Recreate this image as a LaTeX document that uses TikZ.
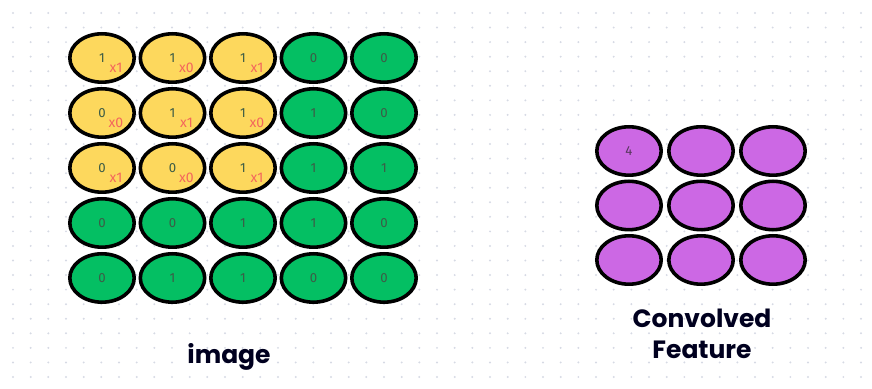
\documentclass[tikz,border=0pt]{standalone}
\usepackage{fontspec}
\setmainfont{Fira Sans}
\newfontfamily\titlefont{Poppins}
\usetikzlibrary{shapes.geometric}

\definecolor{cellyellow}{HTML}{FDD85D}
\definecolor{cellgreen}{HTML}{04BF63}
\definecolor{cellpurple}{HTML}{CC68E4}
\definecolor{numgrey}{HTML}{3C5C46}
\definecolor{kernred}{HTML}{F4675C}
\definecolor{dotgrey}{HTML}{D6DAE4}

\begin{document}
\begin{tikzpicture}[
  x=0.5pt, y=-0.5pt,
  cell/.style={ellipse, draw=black, line width=1.8pt, minimum width=32.2pt,
    minimum height=24.2pt, inner sep=0pt},
  num/.style={font=\fontsize{6.6}{7}\selectfont, text=numgrey, inner sep=0pt},
  kern/.style={font=\fontsize{7}{7}\selectfont, text=kernred, inner sep=0pt},
  title/.style={font=\titlefont\bfseries\fontsize{12.5}{15.5}\selectfont,
    text=black!88!blue, align=center, inner sep=0pt}
]
\useasboundingbox (0,0) rectangle (872,389);
% dotted canvas
\foreach \i in {0,...,48}
  \foreach \j in {0,...,25}
    \fill[dotgrey] (13+17.667*\i, 13+14.56*\j) circle (0.55pt);

% input image, 3x3 window in yellow
\foreach \row [count=\r from 0] in {{1,1,1,0,0},{0,1,1,1,0},{0,0,1,1,1},{0,0,1,1,0},{0,1,1,0,0}} {
  \foreach \v [count=\c from 0] in \row {
    \def\cellfill{cellgreen}
    \ifnum\r<3 \ifnum\c<3 \def\cellfill{cellyellow}\fi\fi
    \node[cell, fill=\cellfill] (img-\r-\c) at (102+70.5*\c, 58+55*\r) {};
    \node[num] (num-\r-\c) at (img-\r-\c) {\v};
    \ifnum\r<3 \ifnum\c<3
      \pgfmathtruncatemacro\k{mod(\r+\c+1,2)}
      \node[kern] (ker-\r-\c) at ([shift={(14,10)}]img-\r-\c.center) {x\k};
    \fi\fi
  }
}
\node[title, anchor=base] (imglabel) at (229,364) {image};

% convolved feature map
\foreach \r in {0,1,2}
  \foreach \c in {0,1,2}
    \node[cell, fill=cellpurple] (feat-\r-\c) at (629+72*\c, 151+54.5*\r) {};
\node[num, text=numgrey!60!violet] (feat-val) at (feat-0-0) {4};
\node[title, anchor=base] (featlabel) at (702,358) {Convolved\\Feature};
\end{tikzpicture}
\end{document}
